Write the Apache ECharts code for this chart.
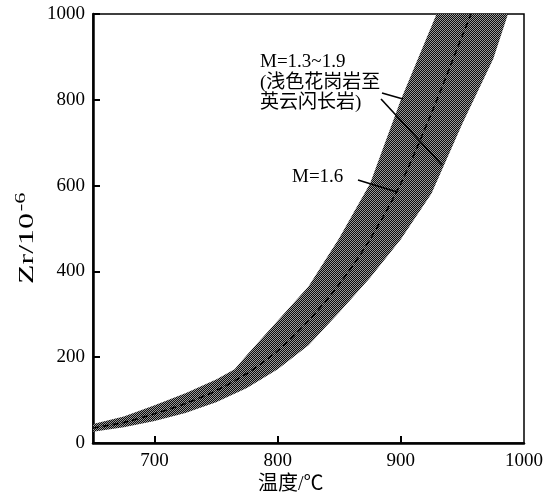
<!DOCTYPE html>
<html>
<head>
<meta charset="utf-8">
<script src="https://cdn.jsdelivr.net/npm/echarts@6/dist/echarts.min.js"></script>
<style>html,body{margin:0;padding:0;background:#fff;}#c{width:559px;height:497px;}</style>
</head>
<body>
<div id="c"></div>
<script>
// Upper edge of band (M=1.9)
const upperT  = [650, 675, 700, 725, 750, 765, 775, 800, 825, 850, 875, 900, 929];
const upperZr = [44, 62, 88, 116, 148, 172, 205, 285, 365, 478, 605, 800, 1000];
// Lower edge of band (M=1.3)
const lowerT  = [650, 675, 700, 725, 750, 775, 800, 825, 850, 875, 900, 925, 950, 975, 987];
const lowerZr = [26, 37, 51, 70, 95, 128, 172, 228, 305, 385, 475, 582, 745, 895, 1000];
// M=1.6 dashed line
const midT  = [650, 675, 700, 725, 750, 775, 800, 825, 850, 875, 900, 925, 950, 957];
const midZr = [35, 48, 68, 92, 122, 162, 215, 285, 370, 475, 605, 770, 950, 1000];
// Axis ticks
const xTicks = [700, 800, 900, 1000];
// Leader lines (data coords)
const leader1 = [[884.7, 816], [901.7, 802]];
const leader2 = [[883.9, 802], [933.4, 648]];
const leader3 = [[865.2, 613], [896.9, 585]];
const bandLabel = 'M=1.3~1.9\n(浅色花岗岩至\n英云闪长岩)';
const midLabel = 'M=1.6';

const serif = '"Liberation Serif", "Noto Sans CJK SC", serif';

const pc = document.createElement('canvas');
pc.width = 2; pc.height = 2;
const ctx = pc.getContext('2d');
ctx.fillStyle = '#0c0c0c'; ctx.fillRect(0, 0, 2, 2);
ctx.fillStyle = '#9a9a9a'; ctx.fillRect(0, 0, 1, 1); ctx.fillRect(1, 1, 1, 1);

const chart = echarts.init(document.getElementById('c'), null, {renderer: 'canvas'});
chart.setOption({
  animation: false,
  backgroundColor: '#fff',
  grid: {left: 93, right: 35, top: 14, bottom: 54, show: true, borderColor: '#000', borderWidth: 1.5, backgroundColor: 'transparent'},
  xAxis: {
    type: 'value', min: 650, max: 1000,
    axisLine: {show: true, lineStyle: {color: '#000', width: 2.5}},
    axisTick: {show: true, inside: true, length: 7, lineStyle: {color: '#000', width: 2}, customValues: [700, 800, 900]},
    axisLabel: {customValues: xTicks, color: '#000', fontSize: 19, fontFamily: serif, margin: 9, formatter: v => String(v)},
    splitLine: {show: false}
  },
  yAxis: {
    type: 'value', min: 0, max: 1000, interval: 200,
    axisLine: {show: true, lineStyle: {color: '#000', width: 2.5}},
    axisTick: {show: true, inside: true, length: 7, lineStyle: {color: '#000', width: 2}},
    axisLabel: {color: '#000', fontSize: 19, fontFamily: serif, margin: 8, formatter: v => String(v)},
    splitLine: {show: false}
  },
  graphic: [
    {type: 'text', left: 260, top: 52, z: 100, style: {text: bandLabel, font: '19px ' + serif, lineHeight: 20.5, fill: '#000'}},
    {type: 'text', left: 292, top: 168, z: 100, style: {text: midLabel, font: '19px ' + serif, fill: '#000'}},
    {type: 'text', left: 258, top: 475, z: 100, style: {text: '温度/℃', font: '20px ' + serif, fill: '#000'}},
    {type: 'text', x: 14, y: 284, rotation: Math.PI / 2, scaleX: 1.6, z: 100,
      style: {text: '{a|Zr/10}{b|-6}', fill: '#000',
        rich: {a: {font: '20px ' + serif, fill: '#000', verticalAlign: 'bottom'},
               b: {font: '14px ' + serif, fill: '#000', verticalAlign: 'top', padding: [0, 0, 10, 1]}}}}
  ],
  series: [
    {
      type: 'custom', clip: true, z: 1,
      data: [[0]],
      renderItem: function (params, api) {
        const up = upperT.map((t, i) => api.coord([t, upperZr[i]]));
        const lo = lowerT.map((t, i) => api.coord([t, lowerZr[i]])).reverse();
        return {type: 'polygon', shape: {points: up.concat(lo)}, style: {fill: {image: pc, repeat: 'repeat'}, stroke: null}};
      }
    },
    {
      type: 'line', z: 3, smooth: 0.3, showSymbol: false, symbol: 'none',
      data: midT.map((t, i) => [t, midZr[i]]),
      lineStyle: {color: '#000', width: 1.6, type: [6, 4]}
    },
    {
      type: 'lines', coordinateSystem: 'cartesian2d', z: 4,
      data: [{coords: leader1}, {coords: leader2}, {coords: leader3}],
      lineStyle: {color: '#000', width: 1.6, opacity: 1}
    }
  ]
});
</script>
</body>
</html>
